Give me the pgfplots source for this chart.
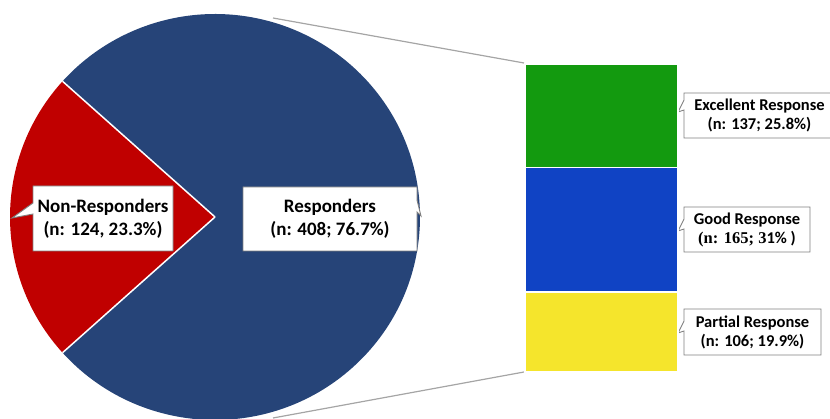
\documentclass[border=0pt]{standalone}
\usepackage{fontspec}
\usepackage{pgfplots}
\pgfplotsset{compat=1.18}
\newfontfamily\cf{Carlito}
\newfontfamily\tf{Liberation Serif}
\definecolor{respblue}{RGB}{38,68,120}
\definecolor{nonred}{RGB}{192,0,0}
\definecolor{exgreen}{RGB}{19,154,15}
\definecolor{goodblue}{RGB}{16,67,196}
\definecolor{partyellow}{RGB}{245,229,44}
\definecolor{boxgray}{RGB}{128,128,128}
\definecolor{linegray}{RGB}{165,165,165}
% data
\def\nResp{408}
\def\nNon{124}
\pgfmathsetmacro\half{180/(\nResp+\nNon)*\nNon}
\pgfmathsetmacro\dx{205*cos(180-\half)}
\pgfmathsetmacro\dy{203*sin(180-\half)}
\begin{document}
\begin{tikzpicture}
\useasboundingbox (0,0) rectangle (830pt,419pt);
\begin{axis}[x=1pt,y=1pt,xmin=0,xmax=830,ymin=0,ymax=419,hide axis,clip=false,
  at={(0,0)},anchor=south west]
% connectors
\draw[linegray,line width=1.2pt] (273,401) -- (524,356);
\draw[linegray,line width=1.2pt] (273,1) -- (524,47);
% pie (x radius 205, y radius 203)
\fill[respblue] (215,202) -- ++(\dx pt,-\dy pt) arc[start angle={180+\half}, end angle={540-\half}, x radius=205pt, y radius=203pt] -- cycle;
\fill[nonred] (215,202) -- ++(\dx pt,\dy pt) arc[start angle={180-\half}, end angle={180+\half}, x radius=205pt, y radius=203pt] -- cycle;
\draw[white,line width=1.5pt] (215,202) -- ++(\dx pt,\dy pt);
\draw[white,line width=1.5pt] (215,202) -- ++(\dx pt,-\dy pt);
% Non-Responders callout
\filldraw[fill=white,draw=boxgray,line width=0.9pt] (33,233) -- (173,233) -- (173,168) -- (33,168) -- (33,205) -- (12,201) -- (33,216) -- cycle;
\node[align=center,font=\cf\bfseries\fontsize{19}{23}\selectfont,text=black] at (103,200.5) {Non-Responders\\(n: 124, 23.3\%)};
% Responders callout
\filldraw[fill=white,draw=boxgray,line width=0.9pt] (243,232) -- (417,232) -- (417,219) -- (421,203) -- (417,207) -- (417,168) -- (243,168) -- cycle;
\node[align=center,font=\cf\bfseries\fontsize{19}{23}\selectfont,text=black] at (330,200) {Responders\\(n: 408; 76.7\%)};
% Excellent
\filldraw[fill=white,draw=boxgray,line width=0.9pt] (684,326) -- (834,326) -- (834,281) -- (684,281) -- (684,309) -- (678,307) -- (684,319) -- cycle;
\node[align=center,font=\cf\bfseries\fontsize{16.5}{19}\selectfont,text=black] at (759.5,303.5) {Excellent Response\\(n: 137; 25.8\%)};
% Good
\filldraw[fill=white,draw=boxgray,line width=0.9pt] (684,212) -- (810,212) -- (810,167) -- (684,167) -- (684,190) -- (678,188) -- (684,200) -- cycle;
\node[align=center,font=\cf\bfseries\fontsize{16.5}{19}\selectfont,text=black] at (747,189.5) {Good Response\\{\tf\bfseries(n: 165; 3}1\% )};
% Partial
\filldraw[fill=white,draw=boxgray,line width=0.9pt] (684,110) -- (821,110) -- (821,64) -- (684,64) -- (684,88) -- (678,86) -- (684,98) -- cycle;
\node[align=center,font=\cf\bfseries\fontsize{16.5}{19}\selectfont,text=black] at (752.5,87) {Partial Response\\(n: 106; 19.9\%)};
\end{axis}
\begin{axis}[at={(525pt,47pt)},anchor=south west,scale only axis,width=153pt,height=308pt,
  hide axis,xmin=-0.5,xmax=0.5,ymin=0,ymax=408,ybar stacked,bar width=153pt,clip=false]
\addplot[fill=partyellow,draw=white,line width=1.5pt] coordinates {(0,106)};
\addplot[fill=goodblue,draw=white,line width=1.5pt] coordinates {(0,165)};
\addplot[fill=exgreen,draw=white,line width=1.5pt] coordinates {(0,137)};
\end{axis}
\end{tikzpicture}
\end{document}
